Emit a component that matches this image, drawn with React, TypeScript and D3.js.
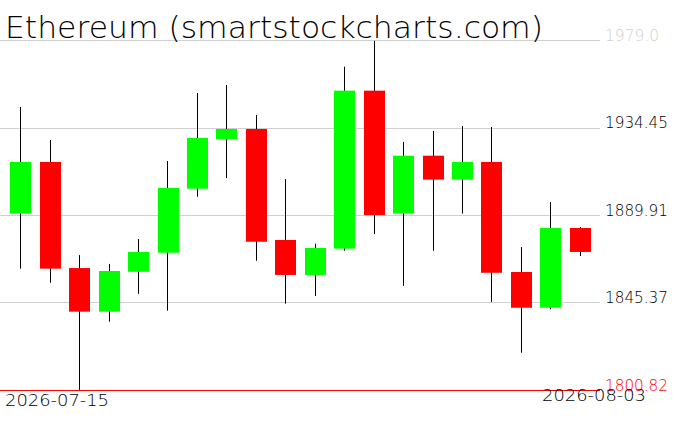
import { useMemo } from "react";
import * as d3 from "d3";

const WIDTH = 676;
const HEIGHT = 431;
const PLOT = { left: 6, right: 595, top: 40, bottom: 390, gridEnd: 600 };

const TITLE = "Ethereum (smartstockcharts.com)";
const DATES = [
  "2026-07-15", "2026-07-16", "2026-07-17", "2026-07-18", "2026-07-19",
  "2026-07-20", "2026-07-21", "2026-07-22", "2026-07-23", "2026-07-24",
  "2026-07-25", "2026-07-26", "2026-07-27", "2026-07-28", "2026-07-29",
  "2026-07-30", "2026-07-31", "2026-08-01", "2026-08-02", "2026-08-03",
];
const OPEN = [
  1890.6, 1916.9, 1862.9, 1840.7, 1861.0, 1870.7, 1903.3, 1928.6, 1933.7, 1877.2,
  1859.4, 1872.8, 1953.2, 1890.6, 1920.1, 1907.9, 1916.9, 1860.9, 1842.7, 1883.3,
];
const HIGH = [
  1944.9, 1928.1, 1869.5, 1865.0, 1877.7, 1917.4, 1952.0, 1956.1, 1940.8, 1908.2,
  1875.3, 1965.4, 1978.6, 1927.1, 1932.7, 1935.2, 1934.7, 1873.6, 1896.5, 1883.8,
];
const LOW = [
  1862.6, 1855.4, 1800.9, 1835.6, 1849.8, 1841.2, 1899.2, 1908.7, 1866.6, 1844.8,
  1848.7, 1871.7, 1880.2, 1853.8, 1871.7, 1890.6, 1845.6, 1819.8, 1841.9, 1869.0,
];
const CLOSE = [
  1916.9, 1862.6, 1840.7, 1861.4, 1871.1, 1903.7, 1929.1, 1933.7, 1876.3, 1859.4,
  1873.1, 1953.2, 1889.9, 1920.1, 1907.9, 1916.9, 1860.5, 1842.7, 1883.3, 1871.1,
];
const Y_TICKS = [1800.82, 1845.37, 1889.91, 1934.45, 1979.0];
const Y_TICK_LABELS = ["1800.82", "1845.37", "1889.91", "1934.45", "1979.0"];

const FONT = "'DejaVu Sans', sans-serif";

export default function App() {
  const candles = DATES.map((date, i) => ({
    date,
    open: OPEN[i],
    high: HIGH[i],
    low: LOW[i],
    close: CLOSE[i],
  }));

  const x = useMemo(
    () =>
      d3
        .scaleBand()
        .domain(DATES)
        .range([PLOT.left, PLOT.right])
        .paddingInner(0.29)
        .paddingOuter(0.145),
    []
  );

  const y = useMemo(
    () =>
      d3
        .scaleLinear()
        .domain([Y_TICKS[0], Y_TICKS[Y_TICKS.length - 1]])
        .range([PLOT.bottom, PLOT.top]),
    []
  );

  const bw = x.bandwidth();

  return (
    <svg
      width={WIDTH}
      height={HEIGHT}
      style={{ position: "absolute", left: 0, top: 0, background: "#fff" }}
    >
      {/* grid */}
      {Y_TICKS.slice(1).map((t) => (
        <line
          key={t}
          x1={0}
          x2={PLOT.gridEnd}
          y1={Math.round(y(t)) + 0.5}
          y2={Math.round(y(t)) + 0.5}
          stroke="#d0d0d0"
          strokeWidth={1}
        />
      ))}

      {/* candles */}
      {candles.map((d) => {
        const cx = Math.floor((x(d.date) ?? 0) + bw / 2) + 0.5;
        const up = d.close >= d.open;
        const top = y(Math.max(d.open, d.close));
        const bot = y(Math.min(d.open, d.close));
        return (
          <g key={d.date}>
            <line
              x1={cx}
              x2={cx}
              y1={y(d.high)}
              y2={y(d.low)}
              stroke="#000"
              strokeWidth={1}
            />
            <rect
              x={Math.round(x(d.date) ?? 0)}
              y={top}
              width={Math.round(bw)}
              height={Math.max(1, bot - top)}
              fill={up ? "#00ff00" : "#ff0000"}
            />
          </g>
        );
      })}

      {/* low line */}
      <line
        x1={0}
        x2={PLOT.gridEnd}
        y1={Math.round(y(Y_TICKS[0])) + 0.5}
        y2={Math.round(y(Y_TICKS[0])) + 0.5}
        stroke="#ff0000"
        strokeWidth={1}
      />

      {/* y labels */}
      {Y_TICKS.map((t, i) => (
        <text
          key={`yl-${t}`}
          x={605}
          y={y(t) + 0.5}
          fontFamily={FONT}
          fontSize={15}
          fontWeight={300}
          textLength={i === Y_TICKS.length - 1 ? 54 : 63}
          lengthAdjust="spacingAndGlyphs"
          fill={i === 0 ? "#ff0000" : i === Y_TICKS.length - 1 ? "#d0d0d0" : "#000"}
        >
          {Y_TICK_LABELS[i]}
        </text>
      ))}

      {/* x labels */}
      <text
        x={5}
        y={406}
        fontFamily={FONT}
        fontSize={15}
        fontWeight={300}
        textLength={104}
        lengthAdjust="spacingAndGlyphs"
      >
        {DATES[0]}
      </text>
      <text
        x={646}
        y={401}
        textAnchor="end"
        fontFamily={FONT}
        fontSize={15}
        fontWeight={300}
        textLength={104}
        lengthAdjust="spacingAndGlyphs"
      >
        {DATES[DATES.length - 1]}
      </text>

      {/* title */}
      <text
        x={5}
        y={38}
        fontFamily={FONT}
        fontSize={30}
        fontWeight={200}
        textLength={538}
        lengthAdjust="spacingAndGlyphs"
      >
        {TITLE}
      </text>
    </svg>
  );
}
